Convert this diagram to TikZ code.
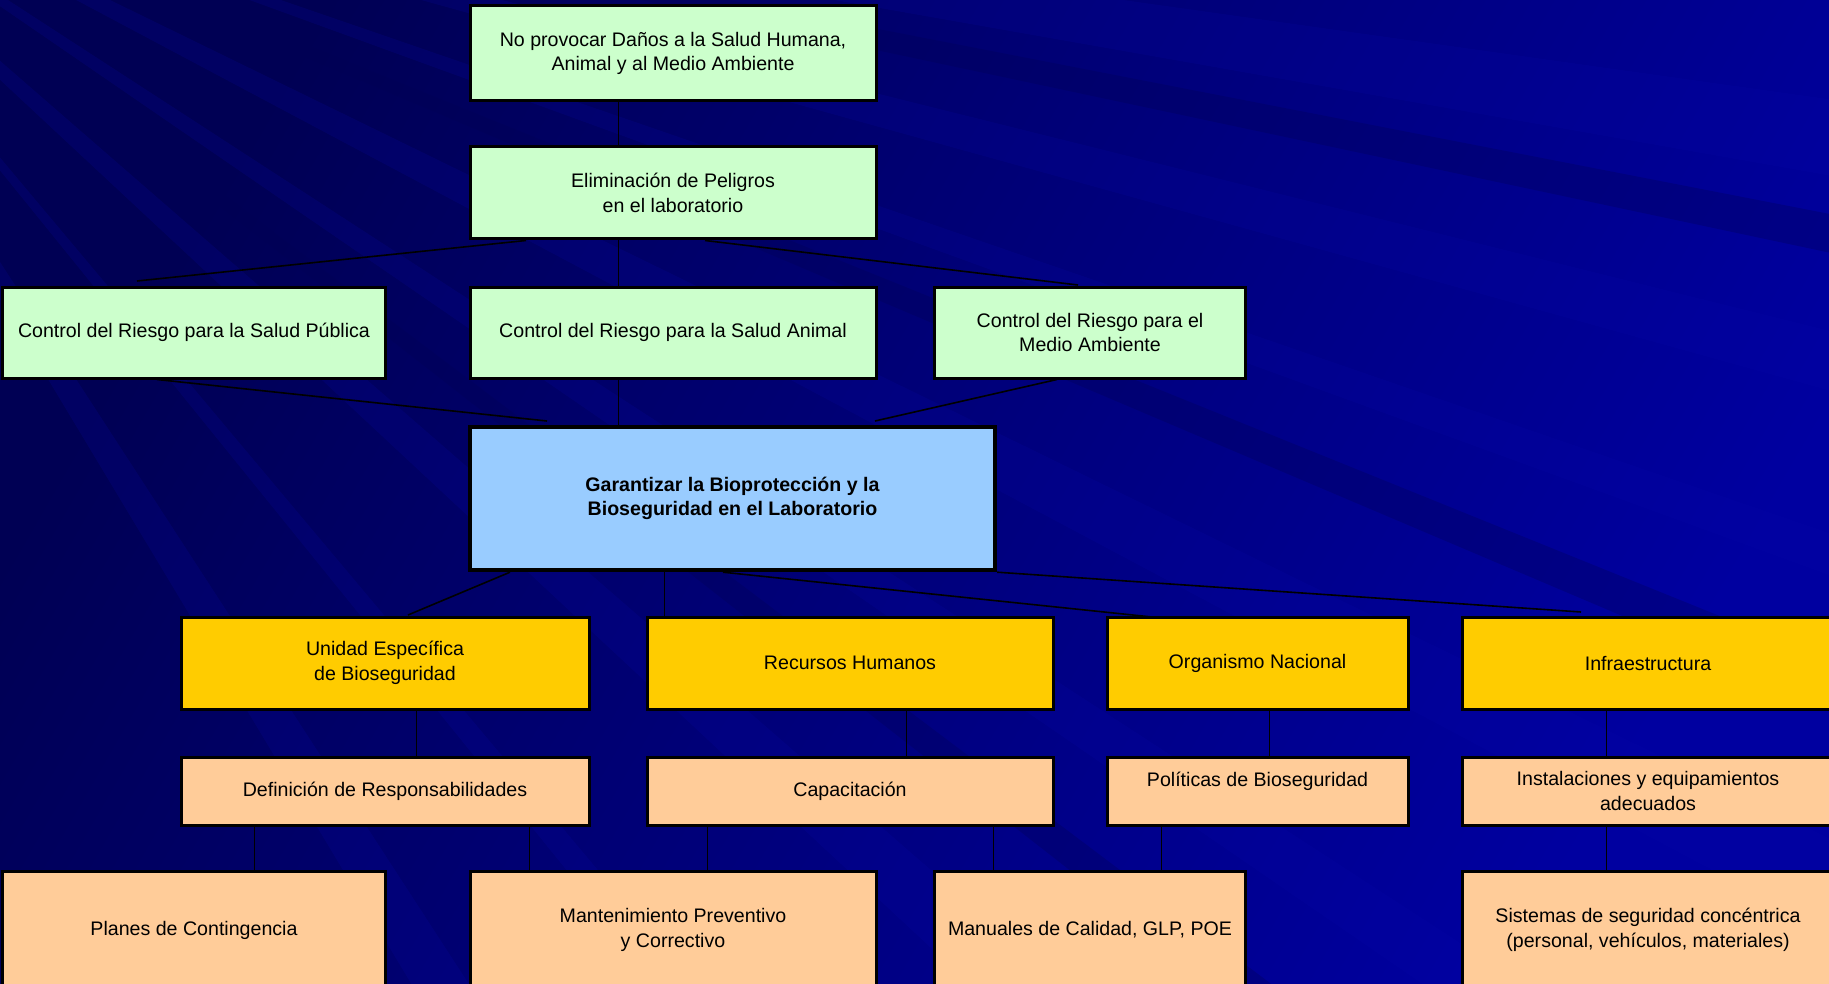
\documentclass[tikz,border=0pt]{standalone}
\usepackage{fontspec}
\setmainfont{Liberation Sans}
\usepackage{color}

\definecolor{bgdark}{RGB}{0,0,84}
\definecolor{bglight}{RGB}{0,0,160}
\definecolor{ray}{RGB}{10,10,170}
\definecolor{mint}{RGB}{204,255,204}
\definecolor{sky}{RGB}{153,204,255}
\definecolor{gold}{RGB}{255,204,0}
\definecolor{peach}{RGB}{255,204,153}

\begin{document}
\begin{tikzpicture}[x=0.5pt,y=-0.5pt,
    box/.style={draw=black,line width=1.5pt,align=center,inner sep=0pt,
        font=\fontsize{9.8}{12.2}\selectfont},
    greenbox/.style={box,fill=mint,minimum height=45.5pt},
    goldbox/.style={box,fill=gold,minimum height=46pt},
    peachbox/.style={box,fill=peach,minimum height=34pt},
    lowbox/.style={box,fill=peach,minimum height=59pt},
    conn/.style={draw=black,line width=0.8pt},
    thin/.style={draw=black,line width=0.45pt}]
            \useasboundingbox (0,0) rectangle (1829,984);
            \clip (0,0) rectangle (1829,984);
            \shade[left color=bgdark,right color=bglight,shading angle=60] (0,0) rectangle (1829,984);
            \foreach \a/\b in {8/10,14/15.5,19/20,26/28,33/34.5,41/43,50/51,57/59}
                \fill[ray,opacity=0.18] (-300,-200) -- ++(\a:3200) -- ++(\b+90:{3200*sin(\b-\a)}) -- cycle;
            \foreach \a/\b in {11/12,22/23,37/38}
                \fill[bgdark,opacity=0.3] (-300,-200) -- ++(\a:3200) -- ++(\b+90:{3200*sin(\b-\a)}) -- cycle;

            % upper part
            \node[greenbox,minimum width=203pt,minimum height=47.5pt] (dano) at (673,53.5) {No provocar Daños a la Salud Humana,\\Animal y al Medio Ambiente};
            \node[greenbox,minimum width=203pt,minimum height=46pt] (elim) at (673,193) {Eliminación de Peligros\\en el laboratorio};
            \node[greenbox,minimum width=191.5pt] (pub) at (194,332.5) {Control del Riesgo para la Salud Pública};
            \node[greenbox,minimum width=203pt] (ani) at (673,332.5) {Control del Riesgo para la Salud Animal};
            \node[greenbox,minimum width=155.5pt] (med) at (1090,332.5) {Control del Riesgo para el\\Medio Ambiente};
            \node[box,fill=sky,line width=2.2pt,minimum width=262.5pt,minimum height=71.5pt,font=\fontsize{9.8}{12.2}\selectfont\bfseries] (gar) at (732.5,498.5) {Garantizar la Bioprotección y la\\Bioseguridad en el Laboratorio};

            % lower part
            \node[goldbox,minimum width=204pt] (uni) at (385,663) {Unidad Específica\\de Bioseguridad};
            \node[goldbox,minimum width=203pt] (rec) at (850,663) {Recursos Humanos};
            \node[goldbox,minimum width=150.5pt] (org) at (1257.5,663) {Organismo Nacional};
            \node[goldbox,minimum width=186pt] (inf) at (1648,663) {Infraestructura};
            \node[peachbox,minimum width=204pt] (def) at (385,791) {Definición de Responsabilidades};
            \node[peachbox,minimum width=203pt] (cap) at (850,791) {Capacitación};
            \node[peachbox,minimum width=150.5pt] (pol) at (1257.5,791) {Políticas de Bioseguridad\\\mbox{}};
            \node[peachbox,minimum width=186pt] (ins) at (1648,791) {Instalaciones y equipamientos\\adecuados};
            \node[lowbox,minimum width=191.5pt] (pla) at (194,930) {Planes de Contingencia};
            \node[lowbox,minimum width=203pt] (man) at (673,930) {Mantenimiento Preventivo\\y Correctivo};
            \node[lowbox,minimum width=155.5pt] (mnl) at (1090,930) {Manuales de Calidad, GLP, POE};
            \node[lowbox,minimum width=186pt] (sis) at (1648,930) {Sistemas de seguridad concéntrica\\(personal, vehículos, materiales)};

            % x positions of the lines and loose ends
            \coordinate (xa) at (618,0);
            \coordinate (xb) at (526,0);
            \coordinate (xc) at (705,0);
            \coordinate (xd) at (157,0);
            \coordinate (xe) at (1057,0);
            \coordinate (xf) at (510,0);
            \coordinate (xg) at (664,0);
            \coordinate (xh) at (723,0);
            \coordinate (e1) at (137,281);
            \coordinate (e2) at (1078,285);
            \coordinate (e3) at (547,421);
            \coordinate (e4) at (875,421);
            \coordinate (e5) at (408,615);
            \coordinate (e6) at (1152,617);
            \coordinate (e7) at (1581,612);

            \draw[thin] (dano.south -| xa) -- (elim.north -| xa);
            \draw[thin] (elim.south -| xa) -- (ani.north -| xa);
            \draw[thin] (ani.south -| xa) -- (gar.north -| xa);
            \draw[conn] (elim.south -| xb) -- (e1);
            \draw[conn] (elim.south -| xc) -- (e2);
            \draw[conn] (pub.south -| xd) -- (e3);
            \draw[conn] (med.south -| xe) -- (e4);
            \draw[conn] (gar.south -| xf) -- (e5);
            \draw[thin] (gar.south -| xg) -- (rec.north -| xg);
            \draw[conn] (gar.south -| xh) -- (e6);
            \draw[conn] (gar.south east) -- (e7);

            \foreach \a/\b/\x in {uni/def/416,rec/cap/906,org/pol/1269,inf/ins/1606} {
                \coordinate (vx) at (\x,0);
                \draw[thin] (\a.south -| vx) -- (\b.north -| vx);
            }
            \foreach \a/\b/\x in {def/pla/254,def/man/529,cap/man/707,cap/mnl/993,pol/mnl/1161,ins/sis/1606} {
                \coordinate (vx) at (\x,0);
                \draw[thin] (\a.south -| vx) -- (\b.north -| vx);
            }
        \end{tikzpicture}
\end{document}
